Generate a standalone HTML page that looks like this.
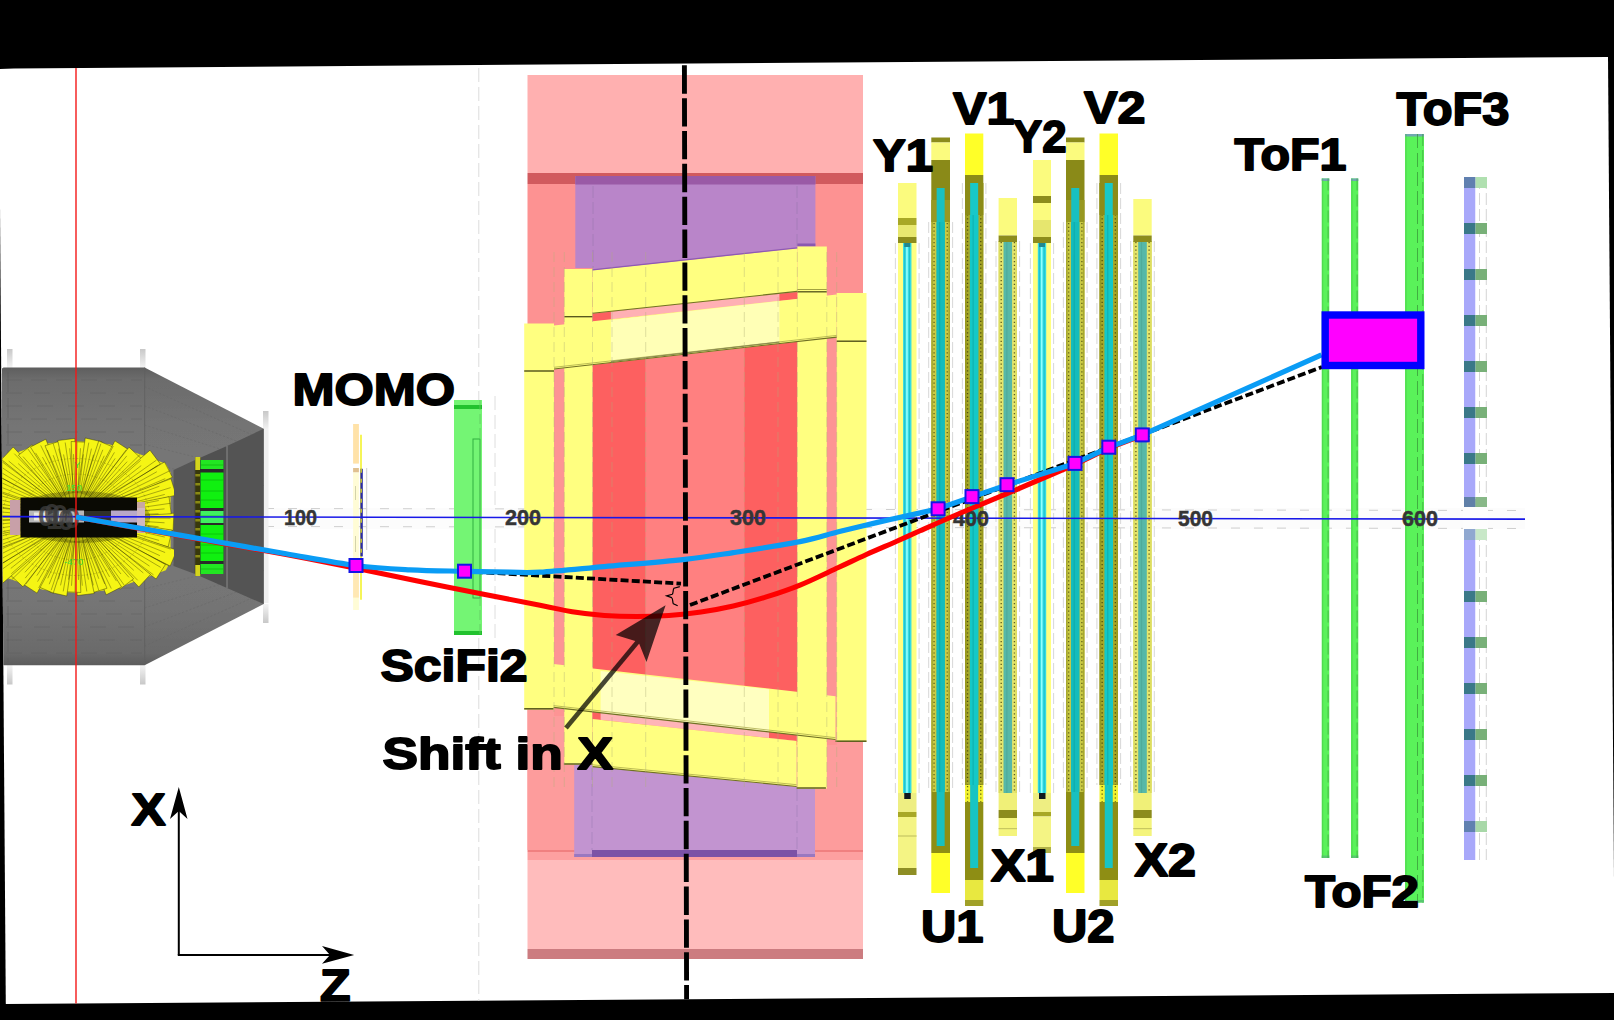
<!DOCTYPE html><html><head><meta charset="utf-8"><title>Spectrometer layout</title><style>html,body{margin:0;padding:0;background:#000;}svg{display:block;}text{font-family:"Liberation Sans",sans-serif;}</style></head><body><svg width="1614" height="1020" viewBox="0 0 1614 1020">
<defs><clipPath id="fanclip"><rect x="2.5" y="436" width="171.5" height="161"/></clipPath><clipPath id="pageclip"><polygon points="0,69 14,68.4 1608,57 1614,879 1614,993 5.8,1004 0,205"/></clipPath></defs>
<rect x="0.00" y="0.00" width="1614.00" height="1020.00" fill="#000" />
<polygon points="0.00,69.00 14.00,68.40 1608.00,57.00 1614.00,879.00 1614.00,993.00 5.80,1004.00 0.00,205.00" fill="#ffffff" />
<g clip-path="url(#pageclip)">
<line x1="478.80" y1="68.00" x2="478.80" y2="1002.00" stroke="#dcdcdc" stroke-width="1" stroke-dasharray="14 5"/>
<line x1="495.00" y1="396.00" x2="495.00" y2="640.00" stroke="#dedede" stroke-width="1" stroke-dasharray="14 5"/>
<rect x="265.00" y="508.00" width="1260.00" height="21.00" fill="#fcfcfc" />
<line x1="265.00" y1="508.50" x2="1525.00" y2="510.50" stroke="#cfcfcf" stroke-width="1" stroke-dasharray="9 14"/>
<line x1="265.00" y1="526.50" x2="1525.00" y2="528.50" stroke="#cfcfcf" stroke-width="1" stroke-dasharray="9 14"/>
<defs><linearGradient id="gb" x1="0" y1="0" x2="0" y2="1"><stop offset="0" stop-color="#5e5e5e"/><stop offset="0.04" stop-color="#6c6c6c"/><stop offset="0.2" stop-color="#757575"/><stop offset="0.5" stop-color="#797979"/><stop offset="0.8" stop-color="#757575"/><stop offset="0.96" stop-color="#6a6a6a"/><stop offset="1" stop-color="#5c5c5c"/></linearGradient><linearGradient id="fl" x1="0" y1="0" x2="0" y2="1"><stop offset="0" stop-color="#c8c8c8"/><stop offset="1" stop-color="#f4f4f4"/></linearGradient><linearGradient id="fl2" x1="0" y1="0" x2="0" y2="1"><stop offset="0" stop-color="#f4f4f4"/><stop offset="1" stop-color="#c8c8c8"/></linearGradient></defs>
<rect x="7.00" y="349.00" width="5.50" height="19.00" fill="url(#fl)" />
<rect x="7.00" y="665.00" width="5.50" height="19.50" fill="url(#fl2)" />
<rect x="140.00" y="349.00" width="5.50" height="19.00" fill="url(#fl)" />
<rect x="140.00" y="665.00" width="5.50" height="19.50" fill="url(#fl2)" />
<rect x="263.00" y="411.00" width="5.50" height="19.00" fill="url(#fl)" />
<rect x="263.00" y="604.00" width="5.50" height="19.00" fill="url(#fl2)" />
<rect x="264.00" y="430.00" width="4.50" height="173.00" fill="#f0f0f0" />
<polygon points="2.00,368.50 3.50,367.40 144.60,367.40 263.70,428.80 263.70,604.00 144.60,665.20 3.50,665.20 2.00,664.00" fill="url(#gb)" />
<line x1="144.60" y1="367.40" x2="144.60" y2="665.00" stroke="#606060" stroke-width="1.2" opacity="0.7"/>
<line x1="8.00" y1="372.00" x2="8.00" y2="662.00" stroke="#5c5c5c" stroke-width="1" stroke-dasharray="20 6" opacity="0.6"/>
<line x1="6.00" y1="380.00" x2="142.00" y2="380.00" stroke="#5e5e5e" stroke-width="0.8" stroke-dasharray="16 9" opacity="0.55"/>
<line x1="6.00" y1="393.00" x2="142.00" y2="393.00" stroke="#5e5e5e" stroke-width="0.8" stroke-dasharray="16 12" opacity="0.55"/>
<line x1="6.00" y1="406.00" x2="142.00" y2="406.00" stroke="#5e5e5e" stroke-width="0.8" stroke-dasharray="16 15" opacity="0.55"/>
<line x1="6.00" y1="419.00" x2="142.00" y2="419.00" stroke="#5e5e5e" stroke-width="0.8" stroke-dasharray="16 9" opacity="0.55"/>
<line x1="6.00" y1="432.00" x2="142.00" y2="432.00" stroke="#5e5e5e" stroke-width="0.8" stroke-dasharray="16 12" opacity="0.55"/>
<line x1="6.00" y1="445.00" x2="142.00" y2="445.00" stroke="#5e5e5e" stroke-width="0.8" stroke-dasharray="16 15" opacity="0.55"/>
<line x1="6.00" y1="458.00" x2="142.00" y2="458.00" stroke="#5e5e5e" stroke-width="0.8" stroke-dasharray="16 9" opacity="0.55"/>
<line x1="6.00" y1="471.00" x2="142.00" y2="471.00" stroke="#5e5e5e" stroke-width="0.8" stroke-dasharray="16 12" opacity="0.55"/>
<line x1="6.00" y1="484.00" x2="142.00" y2="484.00" stroke="#5e5e5e" stroke-width="0.8" stroke-dasharray="16 15" opacity="0.55"/>
<line x1="6.00" y1="497.00" x2="142.00" y2="497.00" stroke="#5e5e5e" stroke-width="0.8" stroke-dasharray="16 9" opacity="0.55"/>
<line x1="6.00" y1="510.00" x2="142.00" y2="510.00" stroke="#5e5e5e" stroke-width="0.8" stroke-dasharray="16 12" opacity="0.55"/>
<line x1="6.00" y1="523.00" x2="142.00" y2="523.00" stroke="#5e5e5e" stroke-width="0.8" stroke-dasharray="16 15" opacity="0.55"/>
<line x1="6.00" y1="536.00" x2="142.00" y2="536.00" stroke="#5e5e5e" stroke-width="0.8" stroke-dasharray="16 9" opacity="0.55"/>
<line x1="6.00" y1="549.00" x2="142.00" y2="549.00" stroke="#5e5e5e" stroke-width="0.8" stroke-dasharray="16 12" opacity="0.55"/>
<line x1="6.00" y1="562.00" x2="142.00" y2="562.00" stroke="#5e5e5e" stroke-width="0.8" stroke-dasharray="16 15" opacity="0.55"/>
<line x1="6.00" y1="575.00" x2="142.00" y2="575.00" stroke="#5e5e5e" stroke-width="0.8" stroke-dasharray="16 9" opacity="0.55"/>
<line x1="6.00" y1="588.00" x2="142.00" y2="588.00" stroke="#5e5e5e" stroke-width="0.8" stroke-dasharray="16 12" opacity="0.55"/>
<line x1="6.00" y1="601.00" x2="142.00" y2="601.00" stroke="#5e5e5e" stroke-width="0.8" stroke-dasharray="16 15" opacity="0.55"/>
<line x1="6.00" y1="614.00" x2="142.00" y2="614.00" stroke="#5e5e5e" stroke-width="0.8" stroke-dasharray="16 9" opacity="0.55"/>
<line x1="6.00" y1="627.00" x2="142.00" y2="627.00" stroke="#5e5e5e" stroke-width="0.8" stroke-dasharray="16 12" opacity="0.55"/>
<line x1="6.00" y1="640.00" x2="142.00" y2="640.00" stroke="#5e5e5e" stroke-width="0.8" stroke-dasharray="16 15" opacity="0.55"/>
<line x1="6.00" y1="653.00" x2="142.00" y2="653.00" stroke="#5e5e5e" stroke-width="0.8" stroke-dasharray="16 9" opacity="0.55"/>
<line x1="144.60" y1="386.63" x2="263.70" y2="440.14" stroke="#606060" stroke-width="0.7" stroke-dasharray="2 2" opacity="0.5"/>
<line x1="144.60" y1="645.97" x2="263.70" y2="592.81" stroke="#606060" stroke-width="0.7" stroke-dasharray="2 2" opacity="0.5"/>
<line x1="144.60" y1="405.87" x2="263.70" y2="451.48" stroke="#606060" stroke-width="0.7" stroke-dasharray="2 2" opacity="0.5"/>
<line x1="144.60" y1="626.94" x2="263.70" y2="581.63" stroke="#606060" stroke-width="0.7" stroke-dasharray="2 2" opacity="0.5"/>
<line x1="144.60" y1="425.10" x2="263.70" y2="462.82" stroke="#606060" stroke-width="0.7" stroke-dasharray="2 2" opacity="0.5"/>
<line x1="144.60" y1="607.91" x2="263.70" y2="570.44" stroke="#606060" stroke-width="0.7" stroke-dasharray="2 2" opacity="0.5"/>
<line x1="144.60" y1="444.34" x2="263.70" y2="474.16" stroke="#606060" stroke-width="0.7" stroke-dasharray="2 2" opacity="0.5"/>
<line x1="144.60" y1="588.89" x2="263.70" y2="559.26" stroke="#606060" stroke-width="0.7" stroke-dasharray="2 2" opacity="0.5"/>
<line x1="144.60" y1="463.57" x2="263.70" y2="485.50" stroke="#606060" stroke-width="0.7" stroke-dasharray="2 2" opacity="0.5"/>
<line x1="144.60" y1="569.86" x2="263.70" y2="548.07" stroke="#606060" stroke-width="0.7" stroke-dasharray="2 2" opacity="0.5"/>
<line x1="144.60" y1="482.81" x2="263.70" y2="496.84" stroke="#606060" stroke-width="0.7" stroke-dasharray="2 2" opacity="0.5"/>
<line x1="144.60" y1="550.83" x2="263.70" y2="536.89" stroke="#606060" stroke-width="0.7" stroke-dasharray="2 2" opacity="0.5"/>
<polygon points="173.50,470.00 195.00,460.00 195.00,574.00 173.50,566.00" fill="#565656" />
<polygon points="195.00,460.00 227.00,446.00 227.00,588.00 195.00,574.00" fill="#505050" />
<polygon points="227.00,446.00 263.70,428.80 263.70,604.00 227.00,588.00" fill="#545454" />
<line x1="227.00" y1="446.00" x2="227.00" y2="588.00" stroke="#8a8a8a" stroke-width="1" />
<line x1="195.00" y1="461.50" x2="195.00" y2="573.00" stroke="#444" stroke-width="1" />
<g clip-path="url(#fanclip)">
<polygon points="76.00,441.34 95.40,442.31 108.98,444.25 124.02,448.62 139.05,453.95 152.63,458.80 165.82,463.65 170.57,472.38 170.57,517.00 170.57,561.62 165.82,570.35 152.63,575.20 139.05,580.05 124.02,585.38 108.98,589.75 95.40,591.69 76.00,592.66 56.60,591.69 43.02,589.75 27.98,585.38 12.95,580.05 -0.63,575.20 -13.82,570.35 -18.58,561.62 -18.58,517.00 -18.58,472.38 -13.82,463.65 -0.63,458.80 12.95,453.95 27.98,448.62 43.02,444.25 56.60,442.31" fill="#eaea12" />
<polygon points="75.90,519.00 173.07,530.47 173.93,513.29 76.10,515.00" fill="#f5f514" stroke="#33330a" stroke-width="0.6" stroke-opacity="0.75"/>
<polygon points="75.55,518.95 168.17,546.87 172.00,530.10 76.45,515.05" fill="#f5f514" stroke="#33330a" stroke-width="0.6" stroke-opacity="0.75"/>
<polygon points="75.22,518.84 170.16,566.04 176.84,550.19 76.78,515.16" fill="#f5f514" stroke="#33330a" stroke-width="0.6" stroke-opacity="0.75"/>
<polygon points="74.91,518.68 156.10,578.99 165.43,564.54 77.09,515.32" fill="#f5f514" stroke="#33330a" stroke-width="0.6" stroke-opacity="0.75"/>
<polygon points="74.64,518.47 138.79,587.01 150.49,574.40 77.36,515.53" fill="#f5f514" stroke="#33330a" stroke-width="0.6" stroke-opacity="0.75"/>
<polygon points="74.41,518.21 119.87,589.18 133.58,578.79 77.59,515.79" fill="#f5f514" stroke="#33330a" stroke-width="0.6" stroke-opacity="0.75"/>
<polygon points="74.22,517.91 106.21,594.80 121.52,586.96 77.78,516.09" fill="#f5f514" stroke="#33330a" stroke-width="0.6" stroke-opacity="0.75"/>
<polygon points="74.09,517.59 90.54,593.34 106.98,588.28 77.91,516.41" fill="#f5f514" stroke="#33330a" stroke-width="0.6" stroke-opacity="0.75"/>
<polygon points="74.02,517.25 77.17,595.58 94.24,593.45 77.98,516.75" fill="#f5f514" stroke="#33330a" stroke-width="0.6" stroke-opacity="0.75"/>
<polygon points="74.00,516.90 63.65,591.65 80.83,592.51 78.00,517.10" fill="#f5f514" stroke="#33330a" stroke-width="0.6" stroke-opacity="0.75"/>
<polygon points="74.05,516.55 50.00,592.20 66.77,596.03 77.95,517.45" fill="#f5f514" stroke="#33330a" stroke-width="0.6" stroke-opacity="0.75"/>
<polygon points="74.16,516.22 37.43,586.34 53.27,593.03 77.84,517.78" fill="#f5f514" stroke="#33330a" stroke-width="0.6" stroke-opacity="0.75"/>
<polygon points="74.32,515.91 22.61,583.80 37.05,593.13 77.68,518.09" fill="#f5f514" stroke="#33330a" stroke-width="0.6" stroke-opacity="0.75"/>
<polygon points="74.53,515.64 10.36,575.08 22.97,586.78 77.47,518.36" fill="#f5f514" stroke="#33330a" stroke-width="0.6" stroke-opacity="0.75"/>
<polygon points="74.79,515.41 -8.35,570.09 2.03,583.80 77.21,518.59" fill="#f5f514" stroke="#33330a" stroke-width="0.6" stroke-opacity="0.75"/>
<polygon points="75.09,515.22 -20.38,556.73 -12.53,572.04 76.91,518.78" fill="#f5f514" stroke="#33330a" stroke-width="0.6" stroke-opacity="0.75"/>
<polygon points="75.41,515.09 -24.03,538.84 -18.97,555.28 76.59,518.91" fill="#f5f514" stroke="#33330a" stroke-width="0.6" stroke-opacity="0.75"/>
<polygon points="75.75,515.02 -19.16,520.24 -17.02,537.31 76.25,518.98" fill="#f5f514" stroke="#33330a" stroke-width="0.6" stroke-opacity="0.75"/>
<polygon points="76.10,515.00 -21.07,503.53 -21.93,520.71 75.90,519.00" fill="#f5f514" stroke="#33330a" stroke-width="0.6" stroke-opacity="0.75"/>
<polygon points="76.45,515.05 -16.17,487.13 -20.00,503.90 75.55,518.95" fill="#f5f514" stroke="#33330a" stroke-width="0.6" stroke-opacity="0.75"/>
<polygon points="76.78,515.16 -18.16,467.96 -24.84,483.81 75.22,518.84" fill="#f5f514" stroke="#33330a" stroke-width="0.6" stroke-opacity="0.75"/>
<polygon points="77.09,515.32 -4.10,455.01 -13.43,469.46 74.91,518.68" fill="#f5f514" stroke="#33330a" stroke-width="0.6" stroke-opacity="0.75"/>
<polygon points="77.36,515.53 13.21,446.99 1.51,459.60 74.64,518.47" fill="#f5f514" stroke="#33330a" stroke-width="0.6" stroke-opacity="0.75"/>
<polygon points="77.59,515.79 32.13,444.82 18.42,455.21 74.41,518.21" fill="#f5f514" stroke="#33330a" stroke-width="0.6" stroke-opacity="0.75"/>
<polygon points="77.78,516.09 45.79,439.20 30.48,447.04 74.22,517.91" fill="#f5f514" stroke="#33330a" stroke-width="0.6" stroke-opacity="0.75"/>
<polygon points="77.91,516.41 61.46,440.66 45.02,445.72 74.09,517.59" fill="#f5f514" stroke="#33330a" stroke-width="0.6" stroke-opacity="0.75"/>
<polygon points="77.98,516.75 74.83,438.42 57.76,440.55 74.02,517.25" fill="#f5f514" stroke="#33330a" stroke-width="0.6" stroke-opacity="0.75"/>
<polygon points="78.00,517.10 88.35,442.35 71.17,441.49 74.00,516.90" fill="#f5f514" stroke="#33330a" stroke-width="0.6" stroke-opacity="0.75"/>
<polygon points="77.95,517.45 102.00,441.80 85.23,437.97 74.05,516.55" fill="#f5f514" stroke="#33330a" stroke-width="0.6" stroke-opacity="0.75"/>
<polygon points="77.84,517.78 114.57,447.66 98.73,440.97 74.16,516.22" fill="#f5f514" stroke="#33330a" stroke-width="0.6" stroke-opacity="0.75"/>
<polygon points="77.68,518.09 129.39,450.20 114.95,440.87 74.32,515.91" fill="#f5f514" stroke="#33330a" stroke-width="0.6" stroke-opacity="0.75"/>
<polygon points="77.47,518.36 141.64,458.92 129.03,447.22 74.53,515.64" fill="#f5f514" stroke="#33330a" stroke-width="0.6" stroke-opacity="0.75"/>
<polygon points="77.21,518.59 160.35,463.91 149.97,450.20 74.79,515.41" fill="#f5f514" stroke="#33330a" stroke-width="0.6" stroke-opacity="0.75"/>
<polygon points="76.91,518.78 172.38,477.27 164.53,461.96 75.09,515.22" fill="#f5f514" stroke="#33330a" stroke-width="0.6" stroke-opacity="0.75"/>
<polygon points="76.59,518.91 176.03,495.16 170.97,478.72 75.41,515.09" fill="#f5f514" stroke="#33330a" stroke-width="0.6" stroke-opacity="0.75"/>
<polygon points="76.25,518.98 171.16,513.76 169.02,496.69 75.75,515.02" fill="#f5f514" stroke="#33330a" stroke-width="0.6" stroke-opacity="0.75"/>
<line x1="100.00" y1="517.31" x2="170.50" y2="518.23" stroke="#1c1c00" stroke-width="0.7" opacity="0.5"/>
<line x1="99.95" y1="518.57" x2="164.52" y2="522.79" stroke="#1c1c00" stroke-width="0.7" opacity="0.5"/>
<line x1="99.83" y1="519.82" x2="158.60" y2="526.77" stroke="#1c1c00" stroke-width="0.7" opacity="0.5"/>
<line x1="99.65" y1="521.06" x2="170.54" y2="533.24" stroke="#1c1c00" stroke-width="0.7" opacity="0.5"/>
<line x1="99.41" y1="522.29" x2="164.72" y2="537.07" stroke="#1c1c00" stroke-width="0.7" opacity="0.5"/>
<line x1="99.10" y1="523.51" x2="159.06" y2="540.42" stroke="#1c1c00" stroke-width="0.7" opacity="0.5"/>
<line x1="98.73" y1="524.71" x2="170.66" y2="549.12" stroke="#1c1c00" stroke-width="0.7" opacity="0.5"/>
<line x1="98.29" y1="525.89" x2="165.14" y2="552.55" stroke="#1c1c00" stroke-width="0.7" opacity="0.5"/>
<line x1="97.80" y1="527.05" x2="159.88" y2="555.66" stroke="#1c1c00" stroke-width="0.7" opacity="0.5"/>
<line x1="97.24" y1="528.17" x2="168.61" y2="565.71" stroke="#1c1c00" stroke-width="0.7" opacity="0.5"/>
<line x1="96.63" y1="529.27" x2="160.78" y2="567.43" stroke="#1c1c00" stroke-width="0.7" opacity="0.5"/>
<line x1="95.96" y1="530.33" x2="149.50" y2="566.10" stroke="#1c1c00" stroke-width="0.7" opacity="0.5"/>
<line x1="95.23" y1="531.36" x2="153.51" y2="574.87" stroke="#1c1c00" stroke-width="0.7" opacity="0.5"/>
<line x1="94.45" y1="532.34" x2="143.29" y2="572.96" stroke="#1c1c00" stroke-width="0.7" opacity="0.5"/>
<line x1="93.63" y1="533.29" x2="133.83" y2="570.45" stroke="#1c1c00" stroke-width="0.7" opacity="0.5"/>
<line x1="92.75" y1="534.19" x2="137.67" y2="580.29" stroke="#1c1c00" stroke-width="0.7" opacity="0.5"/>
<line x1="91.83" y1="535.04" x2="128.97" y2="577.40" stroke="#1c1c00" stroke-width="0.7" opacity="0.5"/>
<line x1="90.86" y1="535.85" x2="120.97" y2="574.03" stroke="#1c1c00" stroke-width="0.7" opacity="0.5"/>
<line x1="89.85" y1="536.60" x2="124.04" y2="584.96" stroke="#1c1c00" stroke-width="0.7" opacity="0.5"/>
<line x1="88.81" y1="537.30" x2="116.46" y2="581.12" stroke="#1c1c00" stroke-width="0.7" opacity="0.5"/>
<line x1="87.73" y1="537.94" x2="109.56" y2="576.91" stroke="#1c1c00" stroke-width="0.7" opacity="0.5"/>
<line x1="86.62" y1="538.52" x2="111.29" y2="588.55" stroke="#1c1c00" stroke-width="0.7" opacity="0.5"/>
<line x1="85.48" y1="539.05" x2="104.78" y2="583.97" stroke="#1c1c00" stroke-width="0.7" opacity="0.5"/>
<line x1="84.31" y1="539.52" x2="98.80" y2="578.79" stroke="#1c1c00" stroke-width="0.7" opacity="0.5"/>
<line x1="83.12" y1="539.92" x2="98.86" y2="590.60" stroke="#1c1c00" stroke-width="0.7" opacity="0.5"/>
<line x1="81.91" y1="540.26" x2="93.35" y2="585.30" stroke="#1c1c00" stroke-width="0.7" opacity="0.5"/>
<line x1="80.68" y1="540.54" x2="88.44" y2="579.52" stroke="#1c1c00" stroke-width="0.7" opacity="0.5"/>
<line x1="79.45" y1="540.75" x2="86.80" y2="591.47" stroke="#1c1c00" stroke-width="0.7" opacity="0.5"/>
<line x1="78.20" y1="540.90" x2="82.32" y2="585.68" stroke="#1c1c00" stroke-width="0.7" opacity="0.5"/>
<line x1="76.94" y1="540.98" x2="78.48" y2="579.86" stroke="#1c1c00" stroke-width="0.7" opacity="0.5"/>
<line x1="75.69" y1="541.00" x2="75.03" y2="591.95" stroke="#1c1c00" stroke-width="0.7" opacity="0.5"/>
<line x1="74.43" y1="540.95" x2="71.50" y2="585.76" stroke="#1c1c00" stroke-width="0.7" opacity="0.5"/>
<line x1="73.18" y1="540.83" x2="68.59" y2="579.65" stroke="#1c1c00" stroke-width="0.7" opacity="0.5"/>
<line x1="71.94" y1="540.65" x2="63.23" y2="591.38" stroke="#1c1c00" stroke-width="0.7" opacity="0.5"/>
<line x1="70.71" y1="540.41" x2="60.54" y2="585.35" stroke="#1c1c00" stroke-width="0.7" opacity="0.5"/>
<line x1="69.49" y1="540.10" x2="58.43" y2="579.33" stroke="#1c1c00" stroke-width="0.7" opacity="0.5"/>
<line x1="68.29" y1="539.73" x2="51.12" y2="590.32" stroke="#1c1c00" stroke-width="0.7" opacity="0.5"/>
<line x1="67.11" y1="539.29" x2="49.20" y2="584.19" stroke="#1c1c00" stroke-width="0.7" opacity="0.5"/>
<line x1="65.95" y1="538.80" x2="47.78" y2="578.23" stroke="#1c1c00" stroke-width="0.7" opacity="0.5"/>
<line x1="64.83" y1="538.24" x2="38.67" y2="587.97" stroke="#1c1c00" stroke-width="0.7" opacity="0.5"/>
<line x1="63.73" y1="537.63" x2="37.55" y2="581.64" stroke="#1c1c00" stroke-width="0.7" opacity="0.5"/>
<line x1="62.67" y1="536.96" x2="36.84" y2="575.61" stroke="#1c1c00" stroke-width="0.7" opacity="0.5"/>
<line x1="61.64" y1="536.23" x2="25.82" y2="584.22" stroke="#1c1c00" stroke-width="0.7" opacity="0.5"/>
<line x1="60.66" y1="535.45" x2="25.21" y2="578.08" stroke="#1c1c00" stroke-width="0.7" opacity="0.5"/>
<line x1="59.71" y1="534.63" x2="24.89" y2="572.30" stroke="#1c1c00" stroke-width="0.7" opacity="0.5"/>
<line x1="58.81" y1="533.75" x2="11.90" y2="579.46" stroke="#1c1c00" stroke-width="0.7" opacity="0.5"/>
<line x1="57.96" y1="532.83" x2="11.30" y2="573.75" stroke="#1c1c00" stroke-width="0.7" opacity="0.5"/>
<line x1="57.15" y1="531.86" x2="10.78" y2="568.43" stroke="#1c1c00" stroke-width="0.7" opacity="0.5"/>
<line x1="56.40" y1="530.85" x2="-4.42" y2="573.85" stroke="#1c1c00" stroke-width="0.7" opacity="0.5"/>
<line x1="55.70" y1="529.81" x2="-5.55" y2="568.46" stroke="#1c1c00" stroke-width="0.7" opacity="0.5"/>
<line x1="55.06" y1="528.73" x2="-4.82" y2="562.27" stroke="#1c1c00" stroke-width="0.7" opacity="0.5"/>
<line x1="54.48" y1="527.62" x2="-17.91" y2="563.32" stroke="#1c1c00" stroke-width="0.7" opacity="0.5"/>
<line x1="53.95" y1="526.48" x2="-13.23" y2="555.35" stroke="#1c1c00" stroke-width="0.7" opacity="0.5"/>
<line x1="53.48" y1="525.31" x2="-7.43" y2="547.79" stroke="#1c1c00" stroke-width="0.7" opacity="0.5"/>
<line x1="53.08" y1="524.12" x2="-18.64" y2="546.39" stroke="#1c1c00" stroke-width="0.7" opacity="0.5"/>
<line x1="52.74" y1="522.91" x2="-12.78" y2="539.56" stroke="#1c1c00" stroke-width="0.7" opacity="0.5"/>
<line x1="52.46" y1="521.68" x2="-6.79" y2="533.48" stroke="#1c1c00" stroke-width="0.7" opacity="0.5"/>
<line x1="52.25" y1="520.45" x2="-18.53" y2="530.72" stroke="#1c1c00" stroke-width="0.7" opacity="0.5"/>
<line x1="52.10" y1="519.20" x2="-12.54" y2="525.14" stroke="#1c1c00" stroke-width="0.7" opacity="0.5"/>
<line x1="52.02" y1="517.94" x2="-6.51" y2="520.25" stroke="#1c1c00" stroke-width="0.7" opacity="0.5"/>
<line x1="52.00" y1="516.69" x2="-18.50" y2="515.77" stroke="#1c1c00" stroke-width="0.7" opacity="0.5"/>
<line x1="52.05" y1="515.43" x2="-12.52" y2="511.21" stroke="#1c1c00" stroke-width="0.7" opacity="0.5"/>
<line x1="52.17" y1="514.18" x2="-6.60" y2="507.23" stroke="#1c1c00" stroke-width="0.7" opacity="0.5"/>
<line x1="52.35" y1="512.94" x2="-18.54" y2="500.76" stroke="#1c1c00" stroke-width="0.7" opacity="0.5"/>
<line x1="52.59" y1="511.71" x2="-12.72" y2="496.93" stroke="#1c1c00" stroke-width="0.7" opacity="0.5"/>
<line x1="52.90" y1="510.49" x2="-7.06" y2="493.58" stroke="#1c1c00" stroke-width="0.7" opacity="0.5"/>
<line x1="53.27" y1="509.29" x2="-18.66" y2="484.88" stroke="#1c1c00" stroke-width="0.7" opacity="0.5"/>
<line x1="53.71" y1="508.11" x2="-13.14" y2="481.45" stroke="#1c1c00" stroke-width="0.7" opacity="0.5"/>
<line x1="54.20" y1="506.95" x2="-7.88" y2="478.34" stroke="#1c1c00" stroke-width="0.7" opacity="0.5"/>
<line x1="54.76" y1="505.83" x2="-16.61" y2="468.29" stroke="#1c1c00" stroke-width="0.7" opacity="0.5"/>
<line x1="55.37" y1="504.73" x2="-8.78" y2="466.57" stroke="#1c1c00" stroke-width="0.7" opacity="0.5"/>
<line x1="56.04" y1="503.67" x2="2.50" y2="467.90" stroke="#1c1c00" stroke-width="0.7" opacity="0.5"/>
<line x1="56.77" y1="502.64" x2="-1.51" y2="459.13" stroke="#1c1c00" stroke-width="0.7" opacity="0.5"/>
<line x1="57.55" y1="501.66" x2="8.71" y2="461.04" stroke="#1c1c00" stroke-width="0.7" opacity="0.5"/>
<line x1="58.37" y1="500.71" x2="18.17" y2="463.55" stroke="#1c1c00" stroke-width="0.7" opacity="0.5"/>
<line x1="59.25" y1="499.81" x2="14.33" y2="453.71" stroke="#1c1c00" stroke-width="0.7" opacity="0.5"/>
<line x1="60.17" y1="498.96" x2="23.03" y2="456.60" stroke="#1c1c00" stroke-width="0.7" opacity="0.5"/>
<line x1="61.14" y1="498.15" x2="31.03" y2="459.97" stroke="#1c1c00" stroke-width="0.7" opacity="0.5"/>
<line x1="62.15" y1="497.40" x2="27.96" y2="449.04" stroke="#1c1c00" stroke-width="0.7" opacity="0.5"/>
<line x1="63.19" y1="496.70" x2="35.54" y2="452.88" stroke="#1c1c00" stroke-width="0.7" opacity="0.5"/>
<line x1="64.27" y1="496.06" x2="42.44" y2="457.09" stroke="#1c1c00" stroke-width="0.7" opacity="0.5"/>
<line x1="65.38" y1="495.48" x2="40.71" y2="445.45" stroke="#1c1c00" stroke-width="0.7" opacity="0.5"/>
<line x1="66.52" y1="494.95" x2="47.22" y2="450.03" stroke="#1c1c00" stroke-width="0.7" opacity="0.5"/>
<line x1="67.69" y1="494.48" x2="53.20" y2="455.21" stroke="#1c1c00" stroke-width="0.7" opacity="0.5"/>
<line x1="68.88" y1="494.08" x2="53.14" y2="443.40" stroke="#1c1c00" stroke-width="0.7" opacity="0.5"/>
<line x1="70.09" y1="493.74" x2="58.65" y2="448.70" stroke="#1c1c00" stroke-width="0.7" opacity="0.5"/>
<line x1="71.32" y1="493.46" x2="63.56" y2="454.48" stroke="#1c1c00" stroke-width="0.7" opacity="0.5"/>
<line x1="72.55" y1="493.25" x2="65.20" y2="442.53" stroke="#1c1c00" stroke-width="0.7" opacity="0.5"/>
<line x1="73.80" y1="493.10" x2="69.68" y2="448.32" stroke="#1c1c00" stroke-width="0.7" opacity="0.5"/>
<line x1="75.06" y1="493.02" x2="73.52" y2="454.14" stroke="#1c1c00" stroke-width="0.7" opacity="0.5"/>
<line x1="76.31" y1="493.00" x2="76.97" y2="442.05" stroke="#1c1c00" stroke-width="0.7" opacity="0.5"/>
<line x1="77.57" y1="493.05" x2="80.50" y2="448.24" stroke="#1c1c00" stroke-width="0.7" opacity="0.5"/>
<line x1="78.82" y1="493.17" x2="83.41" y2="454.35" stroke="#1c1c00" stroke-width="0.7" opacity="0.5"/>
<line x1="80.06" y1="493.35" x2="88.77" y2="442.62" stroke="#1c1c00" stroke-width="0.7" opacity="0.5"/>
<line x1="81.29" y1="493.59" x2="91.46" y2="448.65" stroke="#1c1c00" stroke-width="0.7" opacity="0.5"/>
<line x1="82.51" y1="493.90" x2="93.57" y2="454.67" stroke="#1c1c00" stroke-width="0.7" opacity="0.5"/>
<line x1="83.71" y1="494.27" x2="100.88" y2="443.68" stroke="#1c1c00" stroke-width="0.7" opacity="0.5"/>
<line x1="84.89" y1="494.71" x2="102.80" y2="449.81" stroke="#1c1c00" stroke-width="0.7" opacity="0.5"/>
<line x1="86.05" y1="495.20" x2="104.22" y2="455.77" stroke="#1c1c00" stroke-width="0.7" opacity="0.5"/>
<line x1="87.17" y1="495.76" x2="113.33" y2="446.03" stroke="#1c1c00" stroke-width="0.7" opacity="0.5"/>
<line x1="88.27" y1="496.37" x2="114.45" y2="452.36" stroke="#1c1c00" stroke-width="0.7" opacity="0.5"/>
<line x1="89.33" y1="497.04" x2="115.16" y2="458.39" stroke="#1c1c00" stroke-width="0.7" opacity="0.5"/>
<line x1="90.36" y1="497.77" x2="126.18" y2="449.78" stroke="#1c1c00" stroke-width="0.7" opacity="0.5"/>
<line x1="91.34" y1="498.55" x2="126.79" y2="455.92" stroke="#1c1c00" stroke-width="0.7" opacity="0.5"/>
<line x1="92.29" y1="499.37" x2="127.11" y2="461.70" stroke="#1c1c00" stroke-width="0.7" opacity="0.5"/>
<line x1="93.19" y1="500.25" x2="140.10" y2="454.54" stroke="#1c1c00" stroke-width="0.7" opacity="0.5"/>
<line x1="94.04" y1="501.17" x2="140.70" y2="460.25" stroke="#1c1c00" stroke-width="0.7" opacity="0.5"/>
<line x1="94.85" y1="502.14" x2="141.22" y2="465.57" stroke="#1c1c00" stroke-width="0.7" opacity="0.5"/>
<line x1="95.60" y1="503.15" x2="156.42" y2="460.15" stroke="#1c1c00" stroke-width="0.7" opacity="0.5"/>
<line x1="96.30" y1="504.19" x2="157.55" y2="465.54" stroke="#1c1c00" stroke-width="0.7" opacity="0.5"/>
<line x1="96.94" y1="505.27" x2="156.82" y2="471.73" stroke="#1c1c00" stroke-width="0.7" opacity="0.5"/>
<line x1="97.52" y1="506.38" x2="169.91" y2="470.68" stroke="#1c1c00" stroke-width="0.7" opacity="0.5"/>
<line x1="98.05" y1="507.52" x2="165.23" y2="478.65" stroke="#1c1c00" stroke-width="0.7" opacity="0.5"/>
<line x1="98.52" y1="508.69" x2="159.43" y2="486.21" stroke="#1c1c00" stroke-width="0.7" opacity="0.5"/>
<line x1="98.92" y1="509.88" x2="170.64" y2="487.61" stroke="#1c1c00" stroke-width="0.7" opacity="0.5"/>
<line x1="99.26" y1="511.09" x2="164.78" y2="494.44" stroke="#1c1c00" stroke-width="0.7" opacity="0.5"/>
<line x1="99.54" y1="512.32" x2="158.79" y2="500.52" stroke="#1c1c00" stroke-width="0.7" opacity="0.5"/>
<line x1="99.75" y1="513.55" x2="170.53" y2="503.28" stroke="#1c1c00" stroke-width="0.7" opacity="0.5"/>
<line x1="99.90" y1="514.80" x2="164.54" y2="508.86" stroke="#1c1c00" stroke-width="0.7" opacity="0.5"/>
<line x1="99.98" y1="516.06" x2="158.51" y2="513.75" stroke="#1c1c00" stroke-width="0.7" opacity="0.5"/>
<ellipse cx="76" cy="517" rx="53.9" ry="42.9" fill="none" stroke="#5a5a00" stroke-width="0.6" stroke-dasharray="2 2" opacity="0.5"/>
<ellipse cx="76" cy="517" rx="73.5" ry="58.5" fill="none" stroke="#5a5a00" stroke-width="0.6" stroke-dasharray="2 2" opacity="0.5"/>
</g>
<ellipse cx="80" cy="517" rx="70" ry="26" fill="#000" opacity="0.25"/>
<rect x="10.00" y="500.00" width="10.50" height="35.00" fill="#c8a0a8" />
<rect x="137.00" y="502.00" width="8.00" height="31.00" fill="#c8a8a0" />
<rect x="20.50" y="497.50" width="116.50" height="40.00" fill="#0a0a04" />
<rect x="29.00" y="510.50" width="55.00" height="12.00" fill="#b8b8b8" />
<rect x="34.00" y="512.50" width="36.00" height="8.00" fill="#e8e8e0" />
<rect x="84.00" y="511.00" width="27.00" height="11.00" fill="#303028" />
<rect x="111.00" y="510.50" width="26.00" height="12.00" fill="#b8a8c8" />
<rect x="137.00" y="508.00" width="8.00" height="18.00" fill="#d0b8c0" />
<rect x="195.30" y="457.00" width="5.00" height="119.00" fill="#38380a" />
<rect x="195.30" y="457.00" width="5.00" height="13.00" fill="#d4d41c" />
<rect x="195.30" y="565.00" width="5.00" height="11.00" fill="#d4d41c" />
<rect x="195.30" y="474.00" width="5.00" height="2.50" fill="#8a8a14" />
<rect x="195.30" y="483.00" width="5.00" height="2.50" fill="#8a8a14" />
<rect x="195.30" y="492.00" width="5.00" height="2.50" fill="#8a8a14" />
<rect x="195.30" y="501.00" width="5.00" height="2.50" fill="#8a8a14" />
<rect x="195.30" y="510.00" width="5.00" height="2.50" fill="#8a8a14" />
<rect x="195.30" y="519.00" width="5.00" height="2.50" fill="#8a8a14" />
<rect x="195.30" y="528.00" width="5.00" height="2.50" fill="#8a8a14" />
<rect x="195.30" y="537.00" width="5.00" height="2.50" fill="#8a8a14" />
<rect x="195.30" y="546.00" width="5.00" height="2.50" fill="#8a8a14" />
<rect x="195.30" y="555.00" width="5.00" height="2.50" fill="#8a8a14" />
<rect x="200.00" y="460.00" width="23.50" height="114.00" fill="#2a2a2a" />
<rect x="200.50" y="460.00" width="23.00" height="9.00" fill="#22e622" />
<rect x="200.50" y="472.50" width="23.00" height="35.50" fill="#10f010" />
<rect x="200.50" y="511.00" width="23.00" height="12.00" fill="#40f060" />
<rect x="200.50" y="525.00" width="23.00" height="36.00" fill="#10f010" />
<rect x="200.50" y="564.00" width="23.00" height="10.00" fill="#22e622" />
<line x1="201.00" y1="465.00" x2="223.00" y2="465.00" stroke="#0a9a0a" stroke-width="0.8" opacity="0.6"/>
<line x1="201.00" y1="480.00" x2="223.00" y2="480.00" stroke="#0a9a0a" stroke-width="0.8" opacity="0.6"/>
<line x1="201.00" y1="491.00" x2="223.00" y2="491.00" stroke="#0a9a0a" stroke-width="0.8" opacity="0.6"/>
<line x1="201.00" y1="500.00" x2="223.00" y2="500.00" stroke="#0a9a0a" stroke-width="0.8" opacity="0.6"/>
<line x1="201.00" y1="516.00" x2="223.00" y2="516.00" stroke="#0a9a0a" stroke-width="0.8" opacity="0.6"/>
<line x1="201.00" y1="534.00" x2="223.00" y2="534.00" stroke="#0a9a0a" stroke-width="0.8" opacity="0.6"/>
<line x1="201.00" y1="545.00" x2="223.00" y2="545.00" stroke="#0a9a0a" stroke-width="0.8" opacity="0.6"/>
<line x1="201.00" y1="553.00" x2="223.00" y2="553.00" stroke="#0a9a0a" stroke-width="0.8" opacity="0.6"/>
<line x1="201.00" y1="569.00" x2="223.00" y2="569.00" stroke="#0a9a0a" stroke-width="0.8" opacity="0.6"/>
<rect x="527.50" y="75.00" width="335.50" height="98.00" fill="#ffb0b0" />
<rect x="527.50" y="173.00" width="335.50" height="11.00" fill="#d15a5e" />
<rect x="527.50" y="184.00" width="335.50" height="666.00" fill="#fd9292" />
<rect x="527.50" y="700.00" width="335.50" height="150.00" fill="#fd9c9c" />
<rect x="527.50" y="850.00" width="335.50" height="2.00" fill="#f08080" />
<rect x="527.50" y="852.00" width="335.50" height="8.00" fill="#fda0a0" />
<rect x="527.50" y="860.00" width="335.50" height="89.00" fill="#ffbcbc" />
<rect x="527.50" y="949.00" width="335.50" height="10.00" fill="#cc7c80" />
<polygon points="575.30,176.00 815.40,176.00 815.40,246.50 797.30,246.50 797.30,248.30 592.50,270.30 592.50,268.00 575.30,268.00" fill="#b985c9" />
<rect x="575.30" y="176.00" width="240.10" height="8.50" fill="#9a5aa6" />
<rect x="797.30" y="243.50" width="18.10" height="3.00" fill="#8a58b0" />
<line x1="593.00" y1="186.00" x2="593.00" y2="268.00" stroke="#9a78b0" stroke-width="1" stroke-dasharray="12 4" opacity="0.6"/>
<line x1="797.00" y1="186.00" x2="797.00" y2="246.00" stroke="#9a78b0" stroke-width="1" stroke-dasharray="12 4" opacity="0.6"/>
<polygon points="574.20,762.00 592.50,765.00 796.60,786.70 815.00,787.00 815.00,857.00 574.20,857.00" fill="#c294d0" />
<rect x="592.00" y="850.00" width="205.00" height="7.00" fill="#7c52a6" />
<rect x="574.20" y="854.00" width="17.80" height="3.00" fill="#9a78c0" />
<rect x="797.00" y="854.00" width="18.00" height="3.00" fill="#9a78c0" />
<line x1="592.00" y1="768.00" x2="592.00" y2="850.00" stroke="#a080b8" stroke-width="1" stroke-dasharray="12 4" opacity="0.6"/>
<line x1="797.00" y1="789.00" x2="797.00" y2="850.00" stroke="#a080b8" stroke-width="1" stroke-dasharray="12 4" opacity="0.6"/>
<rect x="592.50" y="300.00" width="53.20" height="445.00" fill="#fd6060" />
<rect x="645.70" y="300.00" width="98.60" height="445.00" fill="#ff8080" />
<rect x="744.30" y="300.00" width="53.00" height="445.00" fill="#fd6060" />
<rect x="554.00" y="330.00" width="10.30" height="386.00" fill="#fd9494" />
<rect x="826.80" y="293.00" width="9.90" height="452.00" fill="#fd9494" />
<rect x="524.20" y="323.50" width="29.80" height="386.00" fill="#ffff80" />
<rect x="564.30" y="269.00" width="28.20" height="495.50" fill="#ffff80" />
<rect x="797.30" y="246.50" width="29.50" height="542.10" fill="#ffff80" />
<rect x="836.70" y="293.00" width="29.80" height="449.00" fill="#ffff80" />
<polygon points="592.50,270.30 797.30,248.30 797.30,291.90 592.50,313.70" fill="#ffff80" />
<line x1="592.50" y1="269.80" x2="797.30" y2="247.80" stroke="#8e5ab4" stroke-width="1.3" />
<polygon points="592.50,313.70 797.30,291.90 797.30,299.50 592.50,321.50" fill="#ffb0b4" />
<polygon points="592.50,313.70 610.90,311.80 610.90,320.20 592.50,321.80" fill="#fd6060" />
<polygon points="779.40,293.80 797.30,291.90 797.30,299.30 779.40,301.10" fill="#fd6060" />
<polygon points="554.00,325.50 836.70,294.50 836.70,337.30 554.00,369.20" fill="#ffff80" />
<polygon points="610.90,319.90 779.40,301.10 779.40,342.30 610.90,361.80" fill="#ffffb6" />
<line x1="592.50" y1="313.20" x2="797.30" y2="291.40" stroke="#707024" stroke-width="1.1" />
<line x1="554.00" y1="369.00" x2="836.70" y2="337.10" stroke="#707024" stroke-width="1.1" />
<line x1="554.00" y1="367.30" x2="836.70" y2="335.40" stroke="#a0a040" stroke-width="0.7" />
<line x1="610.90" y1="361.60" x2="779.40" y2="342.10" stroke="#8c8c50" stroke-width="1.2" />
<line x1="564.30" y1="316.70" x2="592.50" y2="316.70" stroke="#505018" stroke-width="1.3" />
<line x1="797.30" y1="291.80" x2="826.80" y2="291.80" stroke="#505018" stroke-width="1.3" />
<line x1="797.30" y1="289.50" x2="826.80" y2="289.50" stroke="#8a8a30" stroke-width="0.8" />
<line x1="524.20" y1="371.00" x2="554.00" y2="371.00" stroke="#505018" stroke-width="1.4" />
<line x1="836.70" y1="341.20" x2="866.50" y2="341.20" stroke="#505018" stroke-width="1.4" />
<polygon points="553.60,664.10 835.50,696.20 835.50,739.70 553.60,707.60" fill="#ffff80" />
<polygon points="600.60,671.00 769.00,689.30 769.00,731.70 600.60,713.40" fill="#ffffc0" />
<polygon points="592.50,712.00 796.60,735.20 796.60,741.00 592.50,719.10" fill="#ffb4b8" />
<polygon points="592.50,712.00 600.60,713.00 600.60,720.00 592.50,719.10" fill="#fd6060" />
<polygon points="769.00,732.00 796.60,735.20 796.60,741.00 769.00,738.00" fill="#fd6060" />
<polygon points="592.50,719.10 796.60,740.90 796.60,786.70 592.50,766.80" fill="#ffff80" />
<line x1="553.60" y1="707.40" x2="835.50" y2="739.50" stroke="#707024" stroke-width="1.1" />
<line x1="553.60" y1="705.60" x2="835.50" y2="737.70" stroke="#a0a040" stroke-width="0.7" />
<line x1="592.50" y1="766.60" x2="796.60" y2="786.50" stroke="#707024" stroke-width="1.1" />
<line x1="592.50" y1="764.80" x2="796.60" y2="784.70" stroke="#a0a040" stroke-width="0.7" />
<line x1="524.20" y1="708.80" x2="553.60" y2="708.80" stroke="#606020" stroke-width="1.6" />
<line x1="835.50" y1="741.20" x2="866.50" y2="741.20" stroke="#606020" stroke-width="1.6" />
<line x1="563.90" y1="764.00" x2="592.50" y2="764.00" stroke="#606020" stroke-width="1.4" />
<line x1="796.60" y1="788.00" x2="825.90" y2="788.00" stroke="#606020" stroke-width="1.6" />
<line x1="554.00" y1="252.00" x2="554.00" y2="788.00" stroke="#b0b078" stroke-width="0.8" stroke-dasharray="10 5" opacity="0.5"/>
<line x1="564.30" y1="252.00" x2="564.30" y2="788.00" stroke="#b0b078" stroke-width="0.8" stroke-dasharray="10 5" opacity="0.5"/>
<line x1="592.50" y1="252.00" x2="592.50" y2="788.00" stroke="#b0b078" stroke-width="0.8" stroke-dasharray="10 5" opacity="0.5"/>
<line x1="612.00" y1="252.00" x2="612.00" y2="788.00" stroke="#b0b078" stroke-width="0.8" stroke-dasharray="10 5" opacity="0.5"/>
<line x1="645.70" y1="252.00" x2="645.70" y2="788.00" stroke="#b0b078" stroke-width="0.8" stroke-dasharray="10 5" opacity="0.5"/>
<line x1="744.30" y1="252.00" x2="744.30" y2="788.00" stroke="#b0b078" stroke-width="0.8" stroke-dasharray="10 5" opacity="0.5"/>
<line x1="778.00" y1="252.00" x2="778.00" y2="788.00" stroke="#b0b078" stroke-width="0.8" stroke-dasharray="10 5" opacity="0.5"/>
<line x1="797.30" y1="252.00" x2="797.30" y2="788.00" stroke="#b0b078" stroke-width="0.8" stroke-dasharray="10 5" opacity="0.5"/>
<line x1="826.80" y1="252.00" x2="826.80" y2="788.00" stroke="#b0b078" stroke-width="0.8" stroke-dasharray="10 5" opacity="0.5"/>
<line x1="836.70" y1="252.00" x2="836.70" y2="788.00" stroke="#b0b078" stroke-width="0.8" stroke-dasharray="10 5" opacity="0.5"/>
<rect x="898.00" y="243.00" width="18.50" height="550.00" fill="#ffff80" />
<rect x="903.05" y="243.00" width="8.40" height="550.00" fill="#34dce4" />
<line x1="906.95" y1="243.00" x2="906.95" y2="793.00" stroke="#90ffff" stroke-width="1.6" />
<line x1="909.45" y1="243.00" x2="909.45" y2="793.00" stroke="#18b8c8" stroke-width="0.8" />
<line x1="904.65" y1="243.00" x2="904.65" y2="793.00" stroke="#18b8c8" stroke-width="0.8" />
<line x1="895.40" y1="243.00" x2="895.40" y2="793.00" stroke="#d2d2d2" stroke-width="0.9" stroke-dasharray="11 4"/>
<line x1="919.10" y1="243.00" x2="919.10" y2="793.00" stroke="#d2d2d2" stroke-width="0.9" stroke-dasharray="11 4"/>
<rect x="898.00" y="183.00" width="18.50" height="35.00" fill="#fbfb7e" />
<rect x="898.00" y="218.00" width="18.50" height="7.00" fill="#a8a826" />
<rect x="898.00" y="225.00" width="18.50" height="12.00" fill="#e8e870" />
<rect x="898.00" y="237.00" width="18.50" height="6.00" fill="#8c8c1c" />
<rect x="904.25" y="243.00" width="6.00" height="4.00" fill="#208890" />
<rect x="1033.00" y="243.00" width="18.00" height="550.00" fill="#ffff80" />
<rect x="1037.80" y="243.00" width="8.40" height="550.00" fill="#34dce4" />
<line x1="1041.70" y1="243.00" x2="1041.70" y2="793.00" stroke="#90ffff" stroke-width="1.6" />
<line x1="1044.20" y1="243.00" x2="1044.20" y2="793.00" stroke="#18b8c8" stroke-width="0.8" />
<line x1="1039.40" y1="243.00" x2="1039.40" y2="793.00" stroke="#18b8c8" stroke-width="0.8" />
<line x1="1030.40" y1="243.00" x2="1030.40" y2="793.00" stroke="#d2d2d2" stroke-width="0.9" stroke-dasharray="11 4"/>
<line x1="1053.60" y1="243.00" x2="1053.60" y2="793.00" stroke="#d2d2d2" stroke-width="0.9" stroke-dasharray="11 4"/>
<rect x="1033.00" y="160.00" width="18.00" height="36.00" fill="#fbfb7e" />
<rect x="1033.00" y="196.00" width="18.00" height="7.00" fill="#8c8c1c" />
<rect x="1033.00" y="203.00" width="18.00" height="17.00" fill="#fbfb7e" />
<rect x="1033.00" y="220.00" width="18.00" height="17.00" fill="#e6e66e" />
<rect x="1033.00" y="237.00" width="18.00" height="6.00" fill="#8c8c1c" />
<rect x="1039.00" y="243.00" width="6.00" height="4.00" fill="#208890" />
<rect x="898.00" y="793.00" width="18.50" height="19.00" fill="#eeee82" />
<rect x="898.00" y="812.00" width="18.50" height="5.00" fill="#a8a826" />
<rect x="898.00" y="817.00" width="18.50" height="51.00" fill="#f4f484" />
<rect x="898.00" y="835.00" width="18.50" height="2.00" fill="#d8d870" />
<rect x="898.00" y="868.00" width="18.50" height="7.00" fill="#8e8e24" />
<rect x="904.25" y="793.00" width="6.50" height="6.00" fill="#101820" />
<rect x="1033.00" y="793.00" width="18.00" height="19.00" fill="#eeee82" />
<rect x="1033.00" y="812.00" width="18.00" height="4.50" fill="#a8a826" />
<rect x="1033.00" y="816.50" width="18.00" height="30.50" fill="#f4f484" />
<rect x="1033.00" y="847.00" width="18.00" height="6.00" fill="#b0b048" />
<rect x="1039.00" y="793.00" width="6.50" height="6.00" fill="#101820" />
<rect x="931.30" y="222.00" width="18.70" height="570.00" fill="#caca44" />
<rect x="931.30" y="222.00" width="1.60" height="570.00" fill="#a8a82e" />
<rect x="948.40" y="222.00" width="1.60" height="570.00" fill="#a8a82e" />
<rect x="936.35" y="222.00" width="8.60" height="570.00" fill="#14bcbc" />
<line x1="939.65" y1="222.00" x2="939.65" y2="792.00" stroke="#0c9c9c" stroke-width="1.2" opacity="0.5"/>
<line x1="934.05" y1="223.00" x2="934.05" y2="792.00" stroke="#4a4a10" stroke-width="1.3" stroke-dasharray="1.2 2.6" opacity="0.8"/>
<line x1="947.25" y1="223.00" x2="947.25" y2="792.00" stroke="#4a4a10" stroke-width="1.3" stroke-dasharray="1.2 2.6" opacity="0.8"/>
<line x1="928.70" y1="222.00" x2="928.70" y2="792.00" stroke="#d2d2d2" stroke-width="0.9" stroke-dasharray="11 4"/>
<line x1="952.60" y1="222.00" x2="952.60" y2="792.00" stroke="#d2d2d2" stroke-width="0.9" stroke-dasharray="11 4"/>
<rect x="931.30" y="137.50" width="18.70" height="5.00" fill="#8c8c1c" />
<rect x="931.30" y="142.50" width="18.70" height="17.50" fill="#fbfb7e" />
<rect x="931.30" y="160.00" width="18.70" height="62.00" fill="#8a8a18" />
<rect x="931.30" y="200.00" width="18.70" height="22.00" fill="#989820" />
<rect x="936.65" y="188.00" width="8.00" height="34.00" fill="#18c0c0" />
<rect x="931.30" y="792.00" width="18.70" height="61.00" fill="#8e8e14" />
<rect x="936.65" y="792.00" width="8.00" height="54.00" fill="#18c0c0" />
<rect x="931.30" y="853.00" width="18.70" height="40.00" fill="#ffff28" />
<rect x="1066.00" y="222.00" width="18.50" height="570.00" fill="#caca44" />
<rect x="1066.00" y="222.00" width="1.60" height="570.00" fill="#a8a82e" />
<rect x="1082.90" y="222.00" width="1.60" height="570.00" fill="#a8a82e" />
<rect x="1070.95" y="222.00" width="8.60" height="570.00" fill="#14bcbc" />
<line x1="1074.25" y1="222.00" x2="1074.25" y2="792.00" stroke="#0c9c9c" stroke-width="1.2" opacity="0.5"/>
<line x1="1068.65" y1="223.00" x2="1068.65" y2="792.00" stroke="#4a4a10" stroke-width="1.3" stroke-dasharray="1.2 2.6" opacity="0.8"/>
<line x1="1081.85" y1="223.00" x2="1081.85" y2="792.00" stroke="#4a4a10" stroke-width="1.3" stroke-dasharray="1.2 2.6" opacity="0.8"/>
<line x1="1063.40" y1="222.00" x2="1063.40" y2="792.00" stroke="#d2d2d2" stroke-width="0.9" stroke-dasharray="11 4"/>
<line x1="1087.10" y1="222.00" x2="1087.10" y2="792.00" stroke="#d2d2d2" stroke-width="0.9" stroke-dasharray="11 4"/>
<rect x="1066.00" y="137.50" width="18.50" height="5.00" fill="#8c8c1c" />
<rect x="1066.00" y="142.50" width="18.50" height="17.50" fill="#fbfb7e" />
<rect x="1066.00" y="160.00" width="18.50" height="62.00" fill="#8a8a18" />
<rect x="1066.00" y="200.00" width="18.50" height="22.00" fill="#989820" />
<rect x="1071.25" y="188.00" width="8.00" height="34.00" fill="#18c0c0" />
<rect x="1066.00" y="792.00" width="18.50" height="61.00" fill="#8e8e14" />
<rect x="1071.25" y="792.00" width="8.00" height="54.00" fill="#18c0c0" />
<rect x="1066.00" y="853.00" width="18.50" height="40.00" fill="#ffff28" />
<rect x="965.00" y="183.00" width="18.30" height="602.00" fill="#a8a828" />
<rect x="965.00" y="183.00" width="1.60" height="602.00" fill="#98981e" />
<rect x="981.70" y="183.00" width="1.60" height="602.00" fill="#98981e" />
<rect x="969.85" y="183.00" width="8.60" height="602.00" fill="#14c8c8" />
<line x1="973.15" y1="183.00" x2="973.15" y2="785.00" stroke="#0c9c9c" stroke-width="1.2" opacity="0.5"/>
<line x1="967.55" y1="184.00" x2="967.55" y2="785.00" stroke="#3a3a08" stroke-width="1.3" stroke-dasharray="1.2 2.6" opacity="0.8"/>
<line x1="980.75" y1="184.00" x2="980.75" y2="785.00" stroke="#3a3a08" stroke-width="1.3" stroke-dasharray="1.2 2.6" opacity="0.8"/>
<line x1="962.40" y1="183.00" x2="962.40" y2="785.00" stroke="#d2d2d2" stroke-width="0.9" stroke-dasharray="11 4"/>
<line x1="985.90" y1="183.00" x2="985.90" y2="785.00" stroke="#d2d2d2" stroke-width="0.9" stroke-dasharray="11 4"/>
<rect x="965.00" y="133.50" width="18.30" height="41.50" fill="#ffff28" />
<rect x="965.00" y="175.00" width="18.30" height="40.00" fill="#8c8c18" />
<rect x="970.15" y="183.00" width="8.00" height="32.00" fill="#18c8c8" />
<rect x="965.00" y="785.00" width="18.30" height="17.00" fill="#f2f230" />
<rect x="965.00" y="802.00" width="18.30" height="78.00" fill="#8e8e14" />
<rect x="970.15" y="785.00" width="8.00" height="83.00" fill="#18c4c4" />
<rect x="965.00" y="880.00" width="18.30" height="20.00" fill="#e8e840" />
<rect x="965.00" y="900.00" width="18.30" height="6.00" fill="#a0a028" />
<line x1="967.55" y1="786.00" x2="967.55" y2="802.00" stroke="#3a3a08" stroke-width="1.3" stroke-dasharray="1.2 2.6" opacity="0.8"/>
<line x1="980.75" y1="786.00" x2="980.75" y2="802.00" stroke="#3a3a08" stroke-width="1.3" stroke-dasharray="1.2 2.6" opacity="0.8"/>
<rect x="1099.50" y="183.00" width="18.50" height="602.00" fill="#a8a828" />
<rect x="1099.50" y="183.00" width="1.60" height="602.00" fill="#98981e" />
<rect x="1116.40" y="183.00" width="1.60" height="602.00" fill="#98981e" />
<rect x="1104.45" y="183.00" width="8.60" height="602.00" fill="#14c8c8" />
<line x1="1107.75" y1="183.00" x2="1107.75" y2="785.00" stroke="#0c9c9c" stroke-width="1.2" opacity="0.5"/>
<line x1="1102.15" y1="184.00" x2="1102.15" y2="785.00" stroke="#3a3a08" stroke-width="1.3" stroke-dasharray="1.2 2.6" opacity="0.8"/>
<line x1="1115.35" y1="184.00" x2="1115.35" y2="785.00" stroke="#3a3a08" stroke-width="1.3" stroke-dasharray="1.2 2.6" opacity="0.8"/>
<line x1="1096.90" y1="183.00" x2="1096.90" y2="785.00" stroke="#d2d2d2" stroke-width="0.9" stroke-dasharray="11 4"/>
<line x1="1120.60" y1="183.00" x2="1120.60" y2="785.00" stroke="#d2d2d2" stroke-width="0.9" stroke-dasharray="11 4"/>
<rect x="1099.50" y="133.50" width="18.50" height="41.50" fill="#ffff28" />
<rect x="1099.50" y="175.00" width="18.50" height="40.00" fill="#8c8c18" />
<rect x="1104.75" y="183.00" width="8.00" height="32.00" fill="#18c8c8" />
<rect x="1099.50" y="785.00" width="18.50" height="17.00" fill="#f2f230" />
<rect x="1099.50" y="802.00" width="18.50" height="78.00" fill="#8e8e14" />
<rect x="1104.75" y="785.00" width="8.00" height="83.00" fill="#18c4c4" />
<rect x="1099.50" y="880.00" width="18.50" height="20.00" fill="#e8e840" />
<rect x="1099.50" y="900.00" width="18.50" height="6.00" fill="#a0a028" />
<line x1="1102.15" y1="786.00" x2="1102.15" y2="802.00" stroke="#3a3a08" stroke-width="1.3" stroke-dasharray="1.2 2.6" opacity="0.8"/>
<line x1="1115.35" y1="786.00" x2="1115.35" y2="802.00" stroke="#3a3a08" stroke-width="1.3" stroke-dasharray="1.2 2.6" opacity="0.8"/>
<rect x="998.60" y="241.00" width="18.40" height="552.00" fill="#e6e66c" />
<rect x="998.60" y="241.00" width="1.60" height="552.00" fill="#dcdc60" />
<rect x="1015.40" y="241.00" width="1.60" height="552.00" fill="#dcdc60" />
<rect x="1003.50" y="241.00" width="8.60" height="552.00" fill="#56b8a8" />
<line x1="1006.80" y1="241.00" x2="1006.80" y2="793.00" stroke="#48a090" stroke-width="1.2" opacity="0.5"/>
<line x1="1001.20" y1="242.00" x2="1001.20" y2="793.00" stroke="#38380c" stroke-width="1.3" stroke-dasharray="1.2 2.6" opacity="0.8"/>
<line x1="1014.40" y1="242.00" x2="1014.40" y2="793.00" stroke="#38380c" stroke-width="1.3" stroke-dasharray="1.2 2.6" opacity="0.8"/>
<line x1="996.00" y1="241.00" x2="996.00" y2="793.00" stroke="#d2d2d2" stroke-width="0.9" stroke-dasharray="11 4"/>
<line x1="1019.60" y1="241.00" x2="1019.60" y2="793.00" stroke="#d2d2d2" stroke-width="0.9" stroke-dasharray="11 4"/>
<rect x="998.60" y="198.00" width="18.40" height="37.50" fill="#fbfb7e" />
<rect x="998.60" y="235.50" width="18.40" height="6.50" fill="#8c8c1c" />
<rect x="998.60" y="793.00" width="18.40" height="17.00" fill="#f0f078" />
<rect x="998.60" y="810.00" width="18.40" height="8.00" fill="#8c8c1c" />
<rect x="998.60" y="818.00" width="18.40" height="18.00" fill="#f4f47c" />
<rect x="998.60" y="828.00" width="18.40" height="1.20" fill="#c8c860" />
<rect x="1133.30" y="241.00" width="18.40" height="552.00" fill="#e6e66c" />
<rect x="1133.30" y="241.00" width="1.60" height="552.00" fill="#dcdc60" />
<rect x="1150.10" y="241.00" width="1.60" height="552.00" fill="#dcdc60" />
<rect x="1138.20" y="241.00" width="8.60" height="552.00" fill="#56b8a8" />
<line x1="1141.50" y1="241.00" x2="1141.50" y2="793.00" stroke="#48a090" stroke-width="1.2" opacity="0.5"/>
<line x1="1135.90" y1="242.00" x2="1135.90" y2="793.00" stroke="#38380c" stroke-width="1.3" stroke-dasharray="1.2 2.6" opacity="0.8"/>
<line x1="1149.10" y1="242.00" x2="1149.10" y2="793.00" stroke="#38380c" stroke-width="1.3" stroke-dasharray="1.2 2.6" opacity="0.8"/>
<line x1="1130.70" y1="241.00" x2="1130.70" y2="793.00" stroke="#d2d2d2" stroke-width="0.9" stroke-dasharray="11 4"/>
<line x1="1154.30" y1="241.00" x2="1154.30" y2="793.00" stroke="#d2d2d2" stroke-width="0.9" stroke-dasharray="11 4"/>
<rect x="1133.30" y="199.00" width="18.40" height="36.50" fill="#fbfb7e" />
<rect x="1133.30" y="235.50" width="18.40" height="6.50" fill="#8c8c1c" />
<rect x="1133.30" y="793.00" width="18.40" height="17.00" fill="#f0f078" />
<rect x="1133.30" y="810.00" width="18.40" height="8.00" fill="#8c8c1c" />
<rect x="1133.30" y="818.00" width="18.40" height="18.00" fill="#f4f47c" />
<rect x="1133.30" y="828.00" width="18.40" height="1.20" fill="#c8c860" />
<rect x="1321.70" y="178.50" width="7.60" height="679.50" fill="#5af25a" />
<rect x="1321.70" y="178.50" width="7.60" height="2.50" fill="#70a8b0" />
<rect x="1321.70" y="855.50" width="7.60" height="2.50" fill="#58c870" />
<line x1="1328.10" y1="178.50" x2="1328.10" y2="858.00" stroke="#3a9a3a" stroke-width="0.8" stroke-dasharray="12 4" opacity="0.8"/>
<line x1="1322.70" y1="178.50" x2="1322.70" y2="858.00" stroke="#46c046" stroke-width="0.8" opacity="0.7"/>
<rect x="1351.00" y="178.50" width="7.30" height="679.50" fill="#5af25a" />
<rect x="1351.00" y="178.50" width="7.30" height="2.50" fill="#70a8b0" />
<rect x="1351.00" y="855.50" width="7.30" height="2.50" fill="#58c870" />
<line x1="1357.10" y1="178.50" x2="1357.10" y2="858.00" stroke="#3a9a3a" stroke-width="0.8" stroke-dasharray="12 4" opacity="0.8"/>
<line x1="1352.00" y1="178.50" x2="1352.00" y2="858.00" stroke="#46c046" stroke-width="0.8" opacity="0.7"/>
<rect x="1405.00" y="134.00" width="19.00" height="768.50" fill="#5af25a" />
<rect x="1405.00" y="134.00" width="19.00" height="2.50" fill="#70a8b0" />
<rect x="1405.00" y="900.00" width="19.00" height="2.50" fill="#58c870" />
<line x1="1422.80" y1="134.00" x2="1422.80" y2="902.50" stroke="#3a9a3a" stroke-width="0.8" stroke-dasharray="12 4" opacity="0.8"/>
<line x1="1406.00" y1="134.00" x2="1406.00" y2="902.50" stroke="#46c046" stroke-width="0.8" opacity="0.7"/>
<line x1="1417.50" y1="134.00" x2="1417.50" y2="902.00" stroke="#3a9a3a" stroke-width="0.9" stroke-dasharray="14 5" opacity="0.85"/>
<rect x="1464.00" y="177.00" width="11.50" height="683.00" fill="#a8a8fa" />
<rect x="1475.50" y="177.00" width="11.50" height="683.00" fill="#ffffff" />
<line x1="1479.50" y1="177.00" x2="1479.50" y2="860.00" stroke="#d0d0d0" stroke-width="0.9" stroke-dasharray="12 4"/>
<line x1="1486.30" y1="177.00" x2="1486.30" y2="860.00" stroke="#d0d0d0" stroke-width="0.9" stroke-dasharray="12 4"/>
<rect x="1464.00" y="177.00" width="11.50" height="11.00" fill="#6080b0" />
<rect x="1475.50" y="177.00" width="11.50" height="11.00" fill="#b0e0b0" />
<rect x="1464.00" y="223.00" width="11.50" height="11.00" fill="#3a7888" />
<rect x="1475.50" y="223.00" width="11.50" height="11.00" fill="#78b078" />
<rect x="1464.00" y="269.00" width="11.50" height="11.00" fill="#3a7888" />
<rect x="1475.50" y="269.00" width="11.50" height="11.00" fill="#78b078" />
<rect x="1464.00" y="315.00" width="11.50" height="11.00" fill="#3a7888" />
<rect x="1475.50" y="315.00" width="11.50" height="11.00" fill="#78b078" />
<rect x="1464.00" y="361.00" width="11.50" height="11.00" fill="#3a7888" />
<rect x="1475.50" y="361.00" width="11.50" height="11.00" fill="#78b078" />
<rect x="1464.00" y="407.00" width="11.50" height="11.00" fill="#3a7888" />
<rect x="1475.50" y="407.00" width="11.50" height="11.00" fill="#78b078" />
<rect x="1464.00" y="453.00" width="11.50" height="11.00" fill="#3a7888" />
<rect x="1475.50" y="453.00" width="11.50" height="11.00" fill="#78b078" />
<rect x="1464.00" y="499.00" width="11.50" height="11.00" fill="#6080b0" />
<rect x="1475.50" y="499.00" width="11.50" height="11.00" fill="#a8d8a8" />
<rect x="1464.00" y="591.00" width="11.50" height="11.00" fill="#3a7888" />
<rect x="1475.50" y="591.00" width="11.50" height="11.00" fill="#78b078" />
<rect x="1464.00" y="637.00" width="11.50" height="11.00" fill="#3a7888" />
<rect x="1475.50" y="637.00" width="11.50" height="11.00" fill="#78b078" />
<rect x="1464.00" y="683.00" width="11.50" height="11.00" fill="#3a7888" />
<rect x="1475.50" y="683.00" width="11.50" height="11.00" fill="#78b078" />
<rect x="1464.00" y="729.00" width="11.50" height="11.00" fill="#3a7888" />
<rect x="1475.50" y="729.00" width="11.50" height="11.00" fill="#78b078" />
<rect x="1464.00" y="775.00" width="11.50" height="11.00" fill="#3a7888" />
<rect x="1475.50" y="775.00" width="11.50" height="11.00" fill="#78b078" />
<rect x="1464.00" y="821.00" width="11.50" height="11.00" fill="#6080b0" />
<rect x="1475.50" y="821.00" width="11.50" height="11.00" fill="#a8d8a8" />
<rect x="1463.00" y="507.00" width="25.00" height="22.00" fill="#fdfdfd" />
<rect x="1464.00" y="529.00" width="11.50" height="11.00" fill="#90a8d0" />
<rect x="1475.50" y="529.00" width="11.50" height="11.00" fill="#c8e8c8" />
<rect x="1464.00" y="497.00" width="11.50" height="10.00" fill="#6080a8" />
<rect x="1475.50" y="497.00" width="11.50" height="10.00" fill="#88b888" />
<rect x="353.10" y="424.00" width="5.80" height="39.60" fill="#ffe2a8" />
<rect x="353.10" y="468.00" width="5.80" height="4.50" fill="#e0c090" />
<rect x="353.10" y="472.50" width="5.80" height="137.50" fill="#fffcd6" />
<rect x="353.10" y="573.00" width="5.80" height="24.60" fill="#ffe8b4" />
<line x1="355.50" y1="486.00" x2="355.50" y2="500.00" stroke="#c8c8a0" stroke-width="0.8" />
<line x1="355.50" y1="536.00" x2="355.50" y2="552.00" stroke="#c8c8a0" stroke-width="0.8" />
<line x1="361.00" y1="434.70" x2="361.00" y2="599.70" stroke="#f2f220" stroke-width="1.5" />
<line x1="361.60" y1="468.80" x2="361.60" y2="556.40" stroke="#2a2aa0" stroke-width="2.4" />
<line x1="361.20" y1="468.80" x2="361.20" y2="556.40" stroke="#e8e820" stroke-width="1.2" stroke-dasharray="4 6"/>
<line x1="366.70" y1="468.00" x2="366.70" y2="550.00" stroke="#c0c0c0" stroke-width="0.8" />
<rect x="454.00" y="400.00" width="28.00" height="235.00" fill="#74f574" />
<rect x="454.00" y="405.00" width="28.00" height="4.00" fill="#22c22e" />
<rect x="454.00" y="631.00" width="28.00" height="4.00" fill="#22c22e" />
<rect x="473" y="439" width="7" height="159" fill="none" stroke="#30b040" stroke-width="1"/>
<line x1="480.00" y1="400.00" x2="480.00" y2="635.00" stroke="#60c860" stroke-width="0.8" stroke-dasharray="10 4"/>
<line x1="0.00" y1="516.60" x2="1525.00" y2="519.10" stroke="#1818e8" stroke-width="1.6" />
<text x="284" y="524.5" textLength="33" lengthAdjust="spacingAndGlyphs" font-family="Liberation Sans, sans-serif" font-weight="bold" font-size="22.6" fill="#353535" stroke="#353535" stroke-width="0.5">100</text>
<text x="505" y="524.9" textLength="36" lengthAdjust="spacingAndGlyphs" font-family="Liberation Sans, sans-serif" font-weight="bold" font-size="22.6" fill="#353535" stroke="#353535" stroke-width="0.5">200</text>
<text x="730" y="525.2" textLength="36" lengthAdjust="spacingAndGlyphs" font-family="Liberation Sans, sans-serif" font-weight="bold" font-size="22.6" fill="#353535" stroke="#353535" stroke-width="0.5">300</text>
<text x="953" y="525.6" textLength="36" lengthAdjust="spacingAndGlyphs" font-family="Liberation Sans, sans-serif" font-weight="bold" font-size="22.6" fill="#353535" stroke="#353535" stroke-width="0.5">400</text>
<text x="1178" y="526.0" textLength="35" lengthAdjust="spacingAndGlyphs" font-family="Liberation Sans, sans-serif" font-weight="bold" font-size="22.6" fill="#353535" stroke="#353535" stroke-width="0.5">500</text>
<text x="1402" y="526.3" textLength="36" lengthAdjust="spacingAndGlyphs" font-family="Liberation Sans, sans-serif" font-weight="bold" font-size="22.6" fill="#353535" stroke="#353535" stroke-width="0.5">600</text>
<text x="38" y="526" font-family="Liberation Sans, sans-serif" font-weight="bold" font-size="29" fill="#3c3c3c" opacity="0.8">0</text>
<text x="46" y="529" font-family="Liberation Sans, sans-serif" font-weight="bold" font-size="29" fill="#3c3c3c" opacity="0.8">1</text>
<text x="52" y="525" font-family="Liberation Sans, sans-serif" font-weight="bold" font-size="29" fill="#3c3c3c" opacity="0.8">0</text>
<text x="64" y="528" font-family="Liberation Sans, sans-serif" font-weight="bold" font-size="29" fill="#3c3c3c" opacity="0.8">0</text>
<text x="44" y="524" font-family="Liberation Sans, sans-serif" font-weight="bold" font-size="29" fill="#3c3c3c" opacity="0.8">0</text>
<text x="58" y="530" font-family="Liberation Sans, sans-serif" font-weight="bold" font-size="29" fill="#3c3c3c" opacity="0.8">0</text>
<text x="74" y="468" font-family="Liberation Sans, sans-serif" font-size="9.5" fill="#38e038">Y</text>
<text x="66" y="491" font-family="Liberation Sans, sans-serif" font-size="9.5" fill="#38e038">150</text>
<text x="64" y="565" font-family="Liberation Sans, sans-serif" font-size="9.5" fill="#38e038">-470</text>
<line x1="76.00" y1="66.00" x2="76.00" y2="1004.00" stroke="#f41818" stroke-width="1.4" />
<path d="M76.00,517.00 C99.33,521.20 181.00,535.93 216.00,542.20 C251.00,548.47 262.67,550.27 286.00,554.60 C309.33,558.93 329.17,562.80 356.00,568.20 C382.83,573.60 416.33,580.83 447.00,587.00 C477.67,593.17 519.13,601.08 540.00,605.20 C560.87,609.32 561.47,610.00 572.20,611.70 C582.93,613.40 593.67,614.60 604.40,615.40 C615.13,616.20 625.85,616.50 636.60,616.50 C647.35,616.50 658.17,616.15 668.90,615.40 C679.63,614.65 690.27,613.57 701.00,612.00 C711.73,610.43 722.55,608.47 733.30,606.00 C744.05,603.53 754.38,600.68 765.50,597.20 C776.62,593.72 787.85,590.05 800.00,585.10 C812.15,580.15 827.42,572.57 838.40,567.50 C849.38,562.43 856.08,559.12 865.90,554.70 C875.72,550.28 888.28,544.98 897.30,541.00 C906.32,537.02 909.55,535.42 920.00,530.80 C930.45,526.18 944.17,520.07 960.00,513.30 C975.83,506.53 995.83,498.35 1015.00,490.20 C1034.17,482.05 1059.37,471.37 1075.00,464.40 C1090.63,457.43 1097.58,453.20 1108.80,448.40 C1120.02,443.60 1136.72,437.73 1142.30,435.60" fill="none" stroke="#ff0000" stroke-width="5" stroke-linejoin="round"/>
<line x1="684.40" y1="65.30" x2="686.60" y2="1002.00" stroke="#000" stroke-width="4.9" stroke-dasharray="28.35 4.5"/>
<line x1="464.00" y1="571.30" x2="681.00" y2="583.60" stroke="#000" stroke-width="3.8" stroke-dasharray="8 3.2"/>
<line x1="690.00" y1="605.00" x2="1322.00" y2="367.00" stroke="#000" stroke-width="3.8" stroke-dasharray="8 3.2"/>
<path d="M76.00,517.00 C87.67,519.05 122.67,525.22 146.00,529.30 C169.33,533.38 192.67,537.42 216.00,541.50 C239.33,545.58 262.67,549.80 286.00,553.80 C309.33,557.80 335.33,562.83 356.00,565.50 C376.67,568.17 392.00,568.83 410.00,569.80 C428.00,570.77 447.33,570.90 464.00,571.30 C480.67,571.70 497.33,572.05 510.00,572.20 C522.67,572.35 524.27,573.13 540.00,572.20 C555.73,571.27 580.23,568.75 604.40,566.60 C628.57,564.45 663.52,561.63 685.00,559.30 C706.48,556.97 714.13,555.55 733.30,552.60 C752.47,549.65 782.48,545.07 800.00,541.60 C817.52,538.13 825.47,535.00 838.40,531.80 C851.33,528.60 864.52,525.43 877.60,522.40 C890.68,519.37 906.82,515.87 916.90,513.60 C926.98,511.33 934.57,509.60 938.10,508.80 L972.00,496.90 L1007.00,485.00 L1075.00,463.40 L1108.80,447.40 L1142.30,434.90 L1321.50,354.90" fill="none" stroke="#0a9cf5" stroke-width="5.2" stroke-linejoin="round"/>
<rect x="349.50" y="559.00" width="13" height="13" fill="#ff00ff" stroke="#1414e6" stroke-width="2"/>
<rect x="458.00" y="564.70" width="13" height="13" fill="#ff00ff" stroke="#1414e6" stroke-width="2"/>
<rect x="931.60" y="502.30" width="13" height="13" fill="#ff00ff" stroke="#1414e6" stroke-width="2"/>
<rect x="965.50" y="490.10" width="13" height="13" fill="#ff00ff" stroke="#1414e6" stroke-width="2"/>
<rect x="1000.50" y="478.20" width="13" height="13" fill="#ff00ff" stroke="#1414e6" stroke-width="2"/>
<rect x="1068.50" y="456.90" width="13" height="13" fill="#ff00ff" stroke="#1414e6" stroke-width="2"/>
<rect x="1102.30" y="440.70" width="13" height="13" fill="#ff00ff" stroke="#1414e6" stroke-width="2"/>
<rect x="1135.80" y="428.40" width="13" height="13" fill="#ff00ff" stroke="#1414e6" stroke-width="2"/>
<rect x="1325.2" y="315" width="95.6" height="50.5" fill="#ff00ff" stroke="#0000ff" stroke-width="7.4"/>
<g opacity="0.72"><line x1="566" y1="728" x2="640" y2="639" stroke="#000" stroke-width="4.6"/><polygon points="665.6,605.2 646.5,662 638.5,642 615.7,635" fill="#000"/></g>
<path d="M679.8,586.7 L674,588.2 C672.6,590 673.6,593.2 672.2,594.2 L666.6,595.9 L671.6,597.6 C673.4,599 672.2,602.2 673.4,603.8 L677.7,605.7" fill="none" stroke="#000" stroke-width="1.2"/>
<line x1="178.80" y1="955.00" x2="178.80" y2="800.00" stroke="#000" stroke-width="2" />
<line x1="177.80" y1="954.90" x2="340.00" y2="954.90" stroke="#000" stroke-width="2" />
<polygon points="178.8,787 187.5,819 178.8,811 170,819" fill="#000"/>
<polygon points="354.2,954.9 322,946 330,954.9 322,963.8" fill="#000"/>
<text x="292.5" y="404.5" textLength="162.5" lengthAdjust="spacingAndGlyphs" font-family="Liberation Sans, sans-serif" font-weight="bold" font-size="44.6" fill="#000" stroke="#000" stroke-width="1.8" stroke-linejoin="round">MOMO</text>
<text x="380.5" y="681.0" textLength="147.0" lengthAdjust="spacingAndGlyphs" font-family="Liberation Sans, sans-serif" font-weight="bold" font-size="45.0" fill="#000" stroke="#000" stroke-width="1.8" stroke-linejoin="round">SciFi2</text>
<text x="382.5" y="768.5" textLength="230.5" lengthAdjust="spacingAndGlyphs" font-family="Liberation Sans, sans-serif" font-weight="bold" font-size="45.0" fill="#000" stroke="#000" stroke-width="1.8" stroke-linejoin="round">Shift in X</text>
<text x="131.5" y="825.0" textLength="34.0" lengthAdjust="spacingAndGlyphs" font-family="Liberation Sans, sans-serif" font-weight="bold" font-size="44.2" fill="#000" stroke="#000" stroke-width="1.8" stroke-linejoin="round">X</text>
<text x="320.0" y="1001.0" textLength="30.5" lengthAdjust="spacingAndGlyphs" font-family="Liberation Sans, sans-serif" font-weight="bold" font-size="44.6" fill="#000" stroke="#000" stroke-width="1.8" stroke-linejoin="round">Z</text>
<text x="873.0" y="171.0" textLength="60.0" lengthAdjust="spacingAndGlyphs" font-family="Liberation Sans, sans-serif" font-weight="bold" font-size="44.1" fill="#000" stroke="#000" stroke-width="1.8" stroke-linejoin="round">Y1</text>
<text x="953.0" y="124.0" textLength="61.5" lengthAdjust="spacingAndGlyphs" font-family="Liberation Sans, sans-serif" font-weight="bold" font-size="45.2" fill="#000" stroke="#000" stroke-width="1.8" stroke-linejoin="round">V1</text>
<text x="1013.0" y="151.5" textLength="53.5" lengthAdjust="spacingAndGlyphs" font-family="Liberation Sans, sans-serif" font-weight="bold" font-size="45.2" fill="#000" stroke="#000" stroke-width="1.8" stroke-linejoin="round">Y2</text>
<text x="1084.0" y="122.5" textLength="61.5" lengthAdjust="spacingAndGlyphs" font-family="Liberation Sans, sans-serif" font-weight="bold" font-size="44.9" fill="#000" stroke="#000" stroke-width="1.8" stroke-linejoin="round">V2</text>
<text x="991.0" y="880.5" textLength="63.0" lengthAdjust="spacingAndGlyphs" font-family="Liberation Sans, sans-serif" font-weight="bold" font-size="44.7" fill="#000" stroke="#000" stroke-width="1.8" stroke-linejoin="round">X1</text>
<text x="1134.5" y="876.0" textLength="61.5" lengthAdjust="spacingAndGlyphs" font-family="Liberation Sans, sans-serif" font-weight="bold" font-size="45.5" fill="#000" stroke="#000" stroke-width="1.8" stroke-linejoin="round">X2</text>
<text x="921.0" y="942.0" textLength="62.5" lengthAdjust="spacingAndGlyphs" font-family="Liberation Sans, sans-serif" font-weight="bold" font-size="44.7" fill="#000" stroke="#000" stroke-width="1.8" stroke-linejoin="round">U1</text>
<text x="1052.0" y="942.0" textLength="62.5" lengthAdjust="spacingAndGlyphs" font-family="Liberation Sans, sans-serif" font-weight="bold" font-size="45.7" fill="#000" stroke="#000" stroke-width="1.8" stroke-linejoin="round">U2</text>
<text x="1234.5" y="170.0" textLength="112.0" lengthAdjust="spacingAndGlyphs" font-family="Liberation Sans, sans-serif" font-weight="bold" font-size="44.9" fill="#000" stroke="#000" stroke-width="1.8" stroke-linejoin="round">ToF1</text>
<text x="1396.5" y="125.0" textLength="113.0" lengthAdjust="spacingAndGlyphs" font-family="Liberation Sans, sans-serif" font-weight="bold" font-size="46.0" fill="#000" stroke="#000" stroke-width="1.8" stroke-linejoin="round">ToF3</text>
<text x="1305.0" y="906.5" textLength="114.0" lengthAdjust="spacingAndGlyphs" font-family="Liberation Sans, sans-serif" font-weight="bold" font-size="43.6" fill="#000" stroke="#000" stroke-width="1.8" stroke-linejoin="round">ToF2</text>
</g>
</svg></body></html>
